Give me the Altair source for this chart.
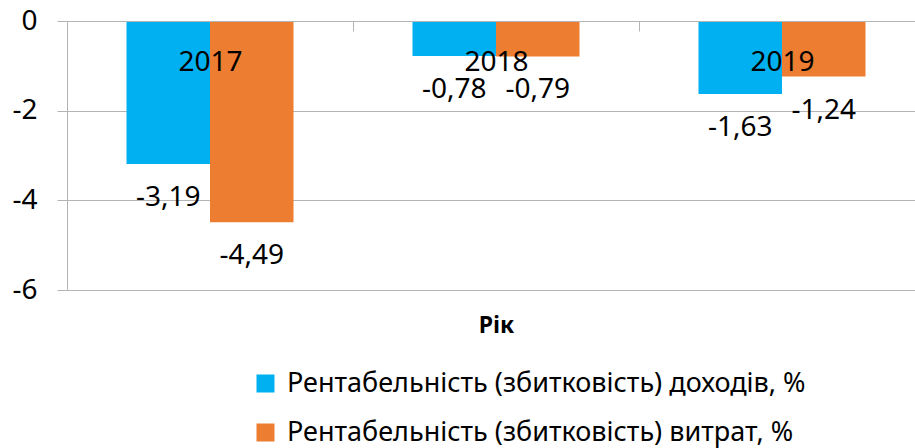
import altair as alt
import pandas as pd

# Profitability (loss ratio) of income and expenses by year, %
years = ["2017", "2018", "2019"]
series = [
    "Рентабельність (збитковість) доходів, %",
    "Рентабельність (збитковість) витрат, %",
]
income_pct = [-3.19, -0.78, -1.63]
expense_pct = [-4.49, -0.79, -1.24]
colors = ["#00B0F0", "#ED7D31"]

rows = []
for yr, a, b in zip(years, income_pct, expense_pct):
    rows.append({"year": yr, "series": series[0], "value": a})
    rows.append({"year": yr, "series": series[1], "value": b})
df = pd.DataFrame(rows)

FONT = "Noto Sans"
GRID = "#b4b4b4"
PLOT_W, PLOT_H = 848, 269

x_enc = alt.X(
    "year:N",
    sort=years,
    scale=alt.Scale(range=[0, 858], paddingInner=0, paddingOuter=0),
    axis=alt.Axis(
        orient="bottom",
        offset=-PLOT_H,
        grid=False,
        domain=True,
        domainColor=GRID,
        ticks=True,
        tickBand="extent",
        tickSize=10,
        tickColor=GRID,
        labelAngle=0,
        labelFont=FONT,
        labelFontSize=28,
        labelColor="black",
        labelBaseline="middle",
        labelPadding=31,
        title="Рік",
        titleFont=FONT,
        titleFontSize=23,
        titleFontWeight="bold",
        titleColor="black",
        titleY=304,
        titleBaseline="middle",
        zindex=1,
    ),
)
# the two bars of a year sit in the middle of the category slot
xoff_enc = alt.XOffset(
    "series:N", sort=series, scale=alt.Scale(paddingInner=0, paddingOuter=0.7125)
)
y_enc = alt.Y(
    "value:Q",
    scale=alt.Scale(domain=[-6, 0], nice=False),
    axis=alt.Axis(
        values=[-6, -4, -2, 0],
        title=None,
        grid=True,
        gridColor=GRID,
        domain=True,
        domainColor=GRID,
        ticks=True,
        tickSize=10,
        tickColor=GRID,
        labelFont=FONT,
        labelFontSize=28,
        labelColor="black",
        labelPadding=20,
        labelExpr="'' + datum.value",
    ),
)

base = alt.Chart(df).transform_calculate(
    label="replace(replace(format(datum.value, '.2f'), '.', ','), '−', '-')"
)

bars = base.mark_bar().encode(
    x=x_enc,
    xOffset=xoff_enc,
    y=y_enc,
    color=alt.Color(
        "series:N",
        sort=series,
        scale=alt.Scale(domain=series, range=colors),
        legend=alt.Legend(
            orient="none",
            legendX=185,
            legendY=349,
            direction="vertical",
            title=None,
            symbolType="square",
            symbolSize=324,
            symbolStrokeWidth=0,
            symbolOpacity=1,
            labelFont=FONT,
            labelFontSize=27,
            labelColor="black",
            labelOffset=8,
            labelLimit=1000,
            rowPadding=21,
            padding=0,
        ),
    ),
)

labels = base.mark_text(
    dy=34, baseline="middle", font=FONT, fontSize=28, color="black"
).encode(x=x_enc, xOffset=xoff_enc, y=y_enc, text="label:N")

chart = (
    alt.layer(bars, labels)
    .properties(
        width=PLOT_W,
        height=PLOT_H,
        autosize=alt.AutoSizeParams(type="none"),
        padding={"left": 67, "top": 21, "right": 0, "bottom": 158},
    )
    .configure_view(stroke=None)
)

chart.save("out.html", embed_options={"renderer": "svg", "actions": False})
